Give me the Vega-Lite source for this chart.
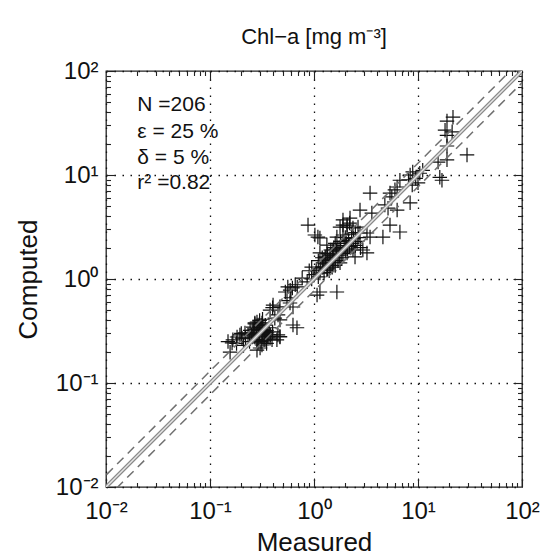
{
  "$schema": "https://vega.github.io/schema/vega-lite/v6.json",
  "width": 416,
  "height": 416,
  "autosize": "none",
  "padding": {"left": 106, "top": 71, "right": 20, "bottom": 73},
  "background": "white",
  "config": {
    "view": {"stroke": "#222222", "strokeWidth": 1.3},
    "font": "Liberation Sans",
    "axis": {"labelFont": "Liberation Sans", "titleFont": "Liberation Sans", "labelColor": "#111111", "titleColor": "#111111", "titleFontWeight": "normal", "labelFlush": false, "labelOverlap": false, "labelBound": false, "domain": false, "tickColor": "#222222", "tickWidth": 1.1}
  },
  "title": {"text": "Chl−a [mg m⁻³]", "fontSize": 22, "fontWeight": "normal", "font": "Liberation Sans", "color": "#111111", "offset": 10},
  "resolve": {"axis": {"x": "independent", "y": "independent"}},
  "layer": [
    {
      "data": {"values": [
        {"x":0.149,"y":0.25},{"x":0.163,"y":0.243},{"x":0.166,"y":0.26},{"x":0.156,"y":0.198},{"x":0.182,"y":0.277},{"x":0.194,"y":0.29},{"x":0.203,"y":0.27},{"x":0.217,"y":0.303},{"x":0.243,"y":0.32},{"x":0.26,"y":0.345},
        {"x":0.27,"y":0.378},{"x":0.283,"y":0.386},{"x":0.29,"y":0.361},{"x":0.303,"y":0.34},{"x":0.316,"y":0.378},{"x":0.32,"y":0.345},{"x":0.338,"y":0.31},{"x":0.353,"y":0.303},{"x":0.361,"y":0.277},{"x":0.378,"y":0.27},
        {"x":0.395,"y":0.26},{"x":0.27,"y":0.277},{"x":0.283,"y":0.26},{"x":0.29,"y":0.243},{"x":0.303,"y":0.217},{"x":0.283,"y":0.207},{"x":0.316,"y":0.232},{"x":0.338,"y":0.26},{"x":0.26,"y":0.303},{"x":0.254,"y":0.277},
        {"x":0.232,"y":0.29},{"x":0.44,"y":0.26},{"x":0.471,"y":0.277},{"x":0.378,"y":0.503},{"x":0.404,"y":0.562},{"x":0.451,"y":0.451},{"x":0.471,"y":0.404},{"x":0.42,"y":0.42},{"x":0.628,"y":0.361},{"x":0.686,"y":0.34},
        {"x":0.588,"y":0.588},{"x":0.628,"y":0.538},{"x":0.27,"y":0.33},{"x":0.29,"y":0.32},{"x":0.31,"y":0.36},{"x":0.33,"y":0.33},{"x":0.3,"y":0.29},{"x":0.28,"y":0.3},{"x":0.32,"y":0.29},{"x":0.34,"y":0.36},
        {"x":0.35,"y":0.32},{"x":0.3,"y":0.4},{"x":0.27,"y":0.37},{"x":0.25,"y":0.29},{"x":0.36,"y":0.28},{"x":0.33,"y":0.26},{"x":0.31,"y":0.25},{"x":0.29,"y":0.26},{"x":0.35,"y":0.24},{"x":0.37,"y":0.34},
        {"x":0.32,"y":0.41},{"x":0.26,"y":0.32},{"x":0.22,"y":0.27},{"x":0.2,"y":0.3},{"x":0.24,"y":0.25},{"x":0.18,"y":0.24},{"x":0.21,"y":0.23},{"x":0.4,"y":0.31},{"x":0.38,"y":0.29},{"x":0.34,"y":0.3},
        {"x":0.45,"y":0.29},{"x":0.47,"y":0.28},{"x":0.47,"y":0.54},{"x":0.4,"y":0.53},{"x":0.56,"y":0.84},{"x":0.53,"y":0.75},{"x":0.55,"y":0.62},{"x":0.6,"y":0.66},{"x":0.77,"y":1.02},{"x":0.86,"y":0.94},
        {"x":0.66,"y":0.88},{"x":0.59,"y":0.78},{"x":0.69,"y":0.84},{"x":0.62,"y":0.82},
        {"x":0.876,"y":3.3},{"x":1.02,"y":2.65},{"x":1.09,"y":2.53},{"x":1.14,"y":2.48},{"x":1.9,"y":3.7},{"x":2.22,"y":3.85},{"x":2.08,"y":3.3},{"x":1.78,"y":3.16},{"x":2.37,"y":3.1},{"x":2.65,"y":3.16},
        {"x":1.66,"y":2.53},{"x":1.9,"y":2.65},{"x":2.77,"y":2.77},{"x":3.23,"y":2.77},{"x":3.46,"y":2.53},{"x":4.6,"y":2.53},{"x":1.33,"y":2.12},{"x":1.52,"y":1.9},{"x":1.14,"y":1.78},{"x":1.28,"y":1.63},
        {"x":1.43,"y":1.7},{"x":1.78,"y":2.03},{"x":2.08,"y":1.78},{"x":2.37,"y":1.9},{"x":2.48,"y":1.63},{"x":2.95,"y":1.9},{"x":3.23,"y":1.78},{"x":1.52,"y":1.52},{"x":1.78,"y":1.43},{"x":1.22,"y":1.43},
        {"x":1.9,"y":3.3},{"x":2.08,"y":3.16},{"x":2.2,"y":3.45},{"x":1.33,"y":1.22},{"x":1.22,"y":1.3},{"x":1.14,"y":1.14},{"x":1.07,"y":0.7},{"x":1.14,"y":0.75},{"x":1.66,"y":0.75},
        {"x":1.2,"y":1.3},{"x":1.25,"y":1.15},{"x":1.3,"y":1.4},{"x":1.35,"y":1.25},{"x":1.4,"y":1.55},{"x":1.45,"y":1.35},{"x":1.5,"y":1.7},{"x":1.55,"y":1.45},{"x":1.6,"y":1.6},{"x":1.65,"y":1.85},
        {"x":1.7,"y":1.5},{"x":1.75,"y":1.7},{"x":1.8,"y":1.95},{"x":1.85,"y":1.6},{"x":1.9,"y":1.75},{"x":1.95,"y":2.1},{"x":2.0,"y":1.85},{"x":2.05,"y":2.2},{"x":2.1,"y":1.95},{"x":2.15,"y":2.35},
        {"x":2.2,"y":2.05},{"x":2.3,"y":2.2},{"x":2.4,"y":2.45},{"x":2.5,"y":2.1},{"x":2.6,"y":2.3},{"x":1.15,"y":1.25},{"x":1.1,"y":1.05},{"x":1.05,"y":1.2},{"x":1.0,"y":1.1},{"x":0.95,"y":1.0},
        {"x":1.3,"y":1.6},{"x":1.4,"y":1.2},{"x":1.5,"y":1.3},{"x":1.6,"y":1.35},{"x":1.7,"y":2.0},{"x":1.8,"y":2.3},{"x":2.0,"y":2.5},{"x":2.3,"y":2.7},{"x":2.7,"y":2.5},{"x":2.8,"y":2.0},
        {"x":1.25,"y":1.5},{"x":1.45,"y":1.9},{"x":1.55,"y":2.0},{"x":1.2,"y":1.6},{"x":1.35,"y":1.75},
        {"x":3.46,"y":6.7},{"x":5.38,"y":6.7},{"x":5.6,"y":6.15},{"x":4.8,"y":5.15},{"x":5.15,"y":4.8},{"x":6.3,"y":4.6},{"x":3.6,"y":4.3},{"x":5.38,"y":3.3},{"x":6.7,"y":2.83},{"x":8.4,"y":5.4},
        {"x":6.3,"y":7.67},{"x":6.0,"y":7.2},{"x":6.7,"y":8.9},{"x":8.4,"y":10},{"x":8.9,"y":10.7},{"x":9.5,"y":9.3},{"x":10.4,"y":10.4},{"x":10,"y":8.4},{"x":8.8,"y":8.0},{"x":11.1,"y":11.1},
        {"x":8.1,"y":9.0},{"x":16.2,"y":9.5},{"x":17,"y":8.9},{"x":15.6,"y":13.3},{"x":2.77,"y":4.6},
        {"x":21.7,"y":36},{"x":19,"y":33},{"x":19,"y":19},{"x":19,"y":14},{"x":18.2,"y":27},{"x":21.3,"y":26},{"x":29.6,"y":15.6},{"x":19,"y":24},
        {"x":0.95,"y":1.3},{"x":1.6,"y":2.2},{"x":2.5,"y":2.8},{"x":1.1,"y":1.5},{"x":0.9,"y":1.2}
      ]},
      "mark": {"type": "point", "shape": "M-1,0L1,0M0,-1L0,1", "filled": false, "stroke": "#111111", "strokeWidth": 1.2, "opacity": 1, "size": 210, "clip": true},
      "encoding": {
        "x": {"field": "x", "type": "quantitative", "scale": {"type": "log", "domain": [0.01, 100], "nice": false},
              "axis": {"orient": "bottom", "title": "Measured", "titleFontSize": 26, "titlePadding": 6, "values": [0.01, 0.1, 1, 10, 100],
                       "labelExpr": "datum.value == 0.01 ? '10⁻²' : datum.value == 0.1 ? '10⁻¹' : datum.value == 1 ? '10⁰' : datum.value == 10 ? '10¹' : '10²'",
                       "labelFontSize": 24, "labelPadding": 21, "tickSize": -9, "grid": true, "gridColor": "#111111", "gridDash": [1.5, 6.5], "gridWidth": 1.3}},
        "y": {"field": "y", "type": "quantitative", "scale": {"type": "log", "domain": [0.01, 100], "nice": false},
              "axis": {"orient": "left", "title": "Computed", "titleFontSize": 26, "titlePadding": 14, "values": [0.01, 0.1, 1, 10, 100],
                       "labelExpr": "datum.value == 0.01 ? '10⁻²' : datum.value == 0.1 ? '10⁻¹' : datum.value == 1 ? '10⁰' : datum.value == 10 ? '10¹' : '10²'",
                       "labelFontSize": 24, "labelPadding": 17, "tickSize": -9, "grid": true, "gridColor": "#111111", "gridDash": [1.5, 6.5], "gridWidth": 1.3}}
      }
    },
    {
      "data": {"values": [{"x": 0.01, "y": 0.01}, {"x": 100, "y": 100}]},
      "mark": {"type": "line", "color": "#8a8a8a", "strokeWidth": 4, "clip": true},
      "encoding": {
        "x": {"field": "x", "type": "quantitative", "scale": {"type": "log", "domain": [0.01, 100], "nice": false},
              "axis": {"orient": "bottom", "title": null, "labels": false, "grid": false, "tickSize": -4.5,
                       "values": [0.02,0.03,0.04,0.05,0.06,0.07,0.08,0.09,0.2,0.3,0.4,0.5,0.6,0.7,0.8,0.9,2,3,4,5,6,7,8,9,20,30,40,50,60,70,80,90]}},
        "y": {"field": "y", "type": "quantitative", "scale": {"type": "log", "domain": [0.01, 100], "nice": false},
              "axis": {"orient": "left", "title": null, "labels": false, "grid": false, "tickSize": -4.5,
                       "values": [0.02,0.03,0.04,0.05,0.06,0.07,0.08,0.09,0.2,0.3,0.4,0.5,0.6,0.7,0.8,0.9,2,3,4,5,6,7,8,9,20,30,40,50,60,70,80,90]}}
      }
    },
    {
      "data": {"values": [{"x": 0.01, "y": 0.01}, {"x": 100, "y": 100}]},
      "mark": {"type": "line", "color": "#e6e6e6", "strokeWidth": 1.4, "clip": true},
      "encoding": {
        "x": {"field": "x", "type": "quantitative", "scale": {"type": "log", "domain": [0.01, 100], "nice": false},
              "axis": {"orient": "top", "title": null, "labels": false, "grid": false, "tickSize": -9, "values": [0.1, 1, 10]}},
        "y": {"field": "y", "type": "quantitative", "scale": {"type": "log", "domain": [0.01, 100], "nice": false},
              "axis": {"orient": "right", "title": null, "labels": false, "grid": false, "tickSize": -9, "values": [0.1, 1, 10]}}
      }
    },
    {
      "data": {"values": [{"x": 0.005, "y": 0.0065}, {"x": 100, "y": 130}]},
      "mark": {"type": "line", "color": "#707070", "strokeWidth": 1.5, "strokeDash": [9, 6], "clip": true},
      "encoding": {
        "x": {"field": "x", "type": "quantitative", "scale": {"type": "log", "domain": [0.01, 100], "nice": false},
              "axis": {"orient": "top", "title": null, "labels": false, "grid": false, "tickSize": -4.5,
                       "values": [0.02,0.03,0.04,0.05,0.06,0.07,0.08,0.09,0.2,0.3,0.4,0.5,0.6,0.7,0.8,0.9,2,3,4,5,6,7,8,9,20,30,40,50,60,70,80,90]}},
        "y": {"field": "y", "type": "quantitative", "scale": {"type": "log", "domain": [0.01, 100], "nice": false},
              "axis": {"orient": "right", "title": null, "labels": false, "grid": false, "tickSize": -4.5,
                       "values": [0.02,0.03,0.04,0.05,0.06,0.07,0.08,0.09,0.2,0.3,0.4,0.5,0.6,0.7,0.8,0.9,2,3,4,5,6,7,8,9,20,30,40,50,60,70,80,90]}}
      }
    },
    {
      "data": {"values": [{"x": 0.01, "y": 0.0077}, {"x": 200, "y": 154}]},
      "mark": {"type": "line", "color": "#707070", "strokeWidth": 1.5, "strokeDash": [9, 6], "clip": true},
      "encoding": {
        "x": {"field": "x", "type": "quantitative", "scale": {"type": "log", "domain": [0.01, 100], "nice": false}, "axis": null},
        "y": {"field": "y", "type": "quantitative", "scale": {"type": "log", "domain": [0.01, 100], "nice": false}, "axis": null}
      }
    },
    {
      "data": {"values": [
        {"x": 0.02, "y": 47, "label": "N =206"},
        {"x": 0.02, "y": 25.9, "label": "ε = 25 %"},
        {"x": 0.02, "y": 14.6, "label": "δ = 5 %"},
        {"x": 0.02, "y": 8.4, "label": "r² =0.82"}
      ]},
      "mark": {"type": "text", "align": "left", "baseline": "middle", "fontSize": 21, "font": "Liberation Sans", "color": "#111111"},
      "encoding": {
        "x": {"field": "x", "type": "quantitative", "scale": {"type": "log", "domain": [0.01, 100], "nice": false}, "axis": null},
        "y": {"field": "y", "type": "quantitative", "scale": {"type": "log", "domain": [0.01, 100], "nice": false}, "axis": null},
        "text": {"field": "label"}
      }
    }
  ]
}
